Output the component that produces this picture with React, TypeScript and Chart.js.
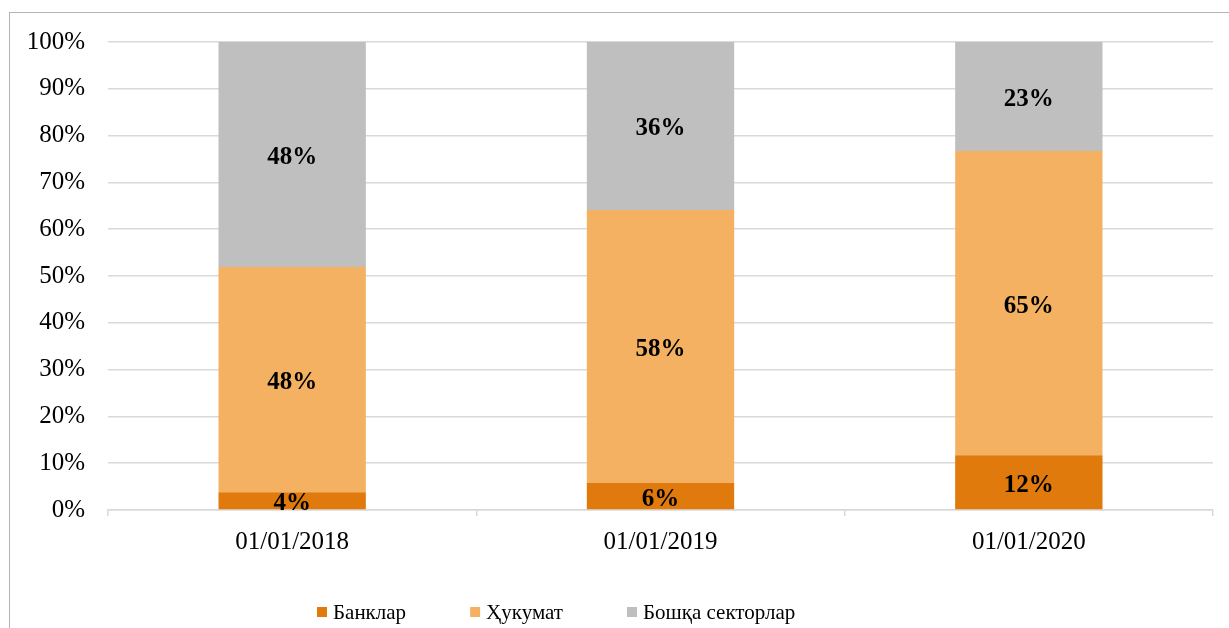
import React, { useEffect, useRef } from "react";
import { Chart, registerables } from "chart.js";

Chart.register(...registerables);

const categories = ["01/01/2018", "01/01/2019", "01/01/2020"];
const seriesNames = ["Банклар", "Ҳукумат", "Бошқа секторлар"];
const banks = [3.8, 5.8, 11.7];
const government = [48.1, 58.3, 65.0];
const otherSectors = [48.1, 35.9, 23.3];
const seriesColors = ["#E07A0C", "#F5B162", "#BFBFBF"];
const yMin = 0;
const yMax = 100;
const yStep = 10;

const FONT = '"Liberation Serif", "Times New Roman", serif';

const dataLabelPlugin = {
  id: "dataLabels",
  afterDatasetsDraw(chart: any) {
    const ctx = chart.ctx;
    ctx.save();
    ctx.font = `bold 25px ${FONT}`;
    ctx.fillStyle = "#000";
    ctx.textAlign = "center";
    ctx.textBaseline = "middle";
    chart.data.datasets.forEach((ds: any, i: number) => {
      const meta = chart.getDatasetMeta(i);
      meta.data.forEach((el: any, j: number) => {
        const v = ds.data[j];
        const p = el.getProps(["x", "y", "base"], true);
        ctx.fillText(Math.round(v) + "%", p.x, (p.y + p.base) / 2 + 3);
      });
    });
    ctx.restore();
  },
};

const legendPlugin = {
  id: "customLegend",
  afterDraw(chart: any) {
    const ctx = chart.ctx;
    ctx.save();
    ctx.font = `21px ${FONT}`;
    ctx.textBaseline = "middle";
    ctx.textAlign = "left";
    let x = 317;
    const y = 612;
    chart.data.datasets.forEach((ds: any) => {
      ctx.fillStyle = ds.backgroundColor;
      ctx.fillRect(x, y - 5, 10, 10);
      ctx.fillStyle = "#000";
      ctx.fillText(ds.label, x + 16, y + 1);
      x += 16 + ctx.measureText(ds.label).width + 64;
    });
    ctx.restore();
  },
};

export default function App() {
  const ref = useRef<HTMLCanvasElement | null>(null);

  useEffect(() => {
    if (!ref.current) return;
    const chart = new Chart(ref.current, {
      type: "bar",
      data: {
        labels: categories,
        datasets: [
          { label: seriesNames[0], data: banks, backgroundColor: seriesColors[0] },
          { label: seriesNames[1], data: government, backgroundColor: seriesColors[1] },
          { label: seriesNames[2], data: otherSectors, backgroundColor: seriesColors[2] },
        ],
      },
      options: {
        animation: false,
        responsive: false,
        layout: { padding: { left: 0, right: 16, top: 42, bottom: 0 } },
        datasets: {
          bar: { categoryPercentage: 0.4, barPercentage: 1 },
        },
        plugins: {
          legend: { display: false },
          tooltip: { enabled: false },
        },
        scales: {
          x: {
            stacked: true,
            afterFit: (axis: any) => {
              axis.height = 118;
            },
            grid: {
              offset: true,
              drawOnChartArea: false,
              drawTicks: true,
              tickLength: 6,
              color: "#D9D9D9",
              lineWidth: 1.5,
            },
            border: { display: true, color: "#D9D9D9", width: 1.5 },
            ticks: {
              color: "#000",
              padding: 11,
              font: { family: FONT, size: 25 },
            },
          },
          y: {
            stacked: true,
            min: yMin,
            max: yMax,
            afterFit: (axis: any) => {
              axis.width = 108;
            },
            grid: { color: "#D9D9D9", lineWidth: 1.5, drawTicks: false },
            border: { display: false },
            ticks: {
              stepSize: yStep,
              padding: 23,
              color: "#000",
              font: { family: FONT, size: 25 },
              callback: (v: any) => v + "%",
            },
          },
        },
      },
      plugins: [dataLabelPlugin, legendPlugin],
    } as any);
    return () => chart.destroy();
  }, []);

  return (
    <div
      style={{
        position: "fixed",
        left: 0,
        top: 0,
        width: 1229,
        height: 628,
        overflow: "hidden",
        background: "#fff",
      }}
    >
      <div
        style={{
          position: "absolute",
          left: 9,
          top: 12,
          width: 1300,
          height: 700,
          border: "1.5px solid #B4B4B4",
          boxSizing: "border-box",
        }}
      />
      <canvas
        ref={ref}
        width={1229}
        height={628}
        style={{ position: "absolute", left: 0, top: 0, width: 1229, height: 628 }}
      />
    </div>
  );
}
